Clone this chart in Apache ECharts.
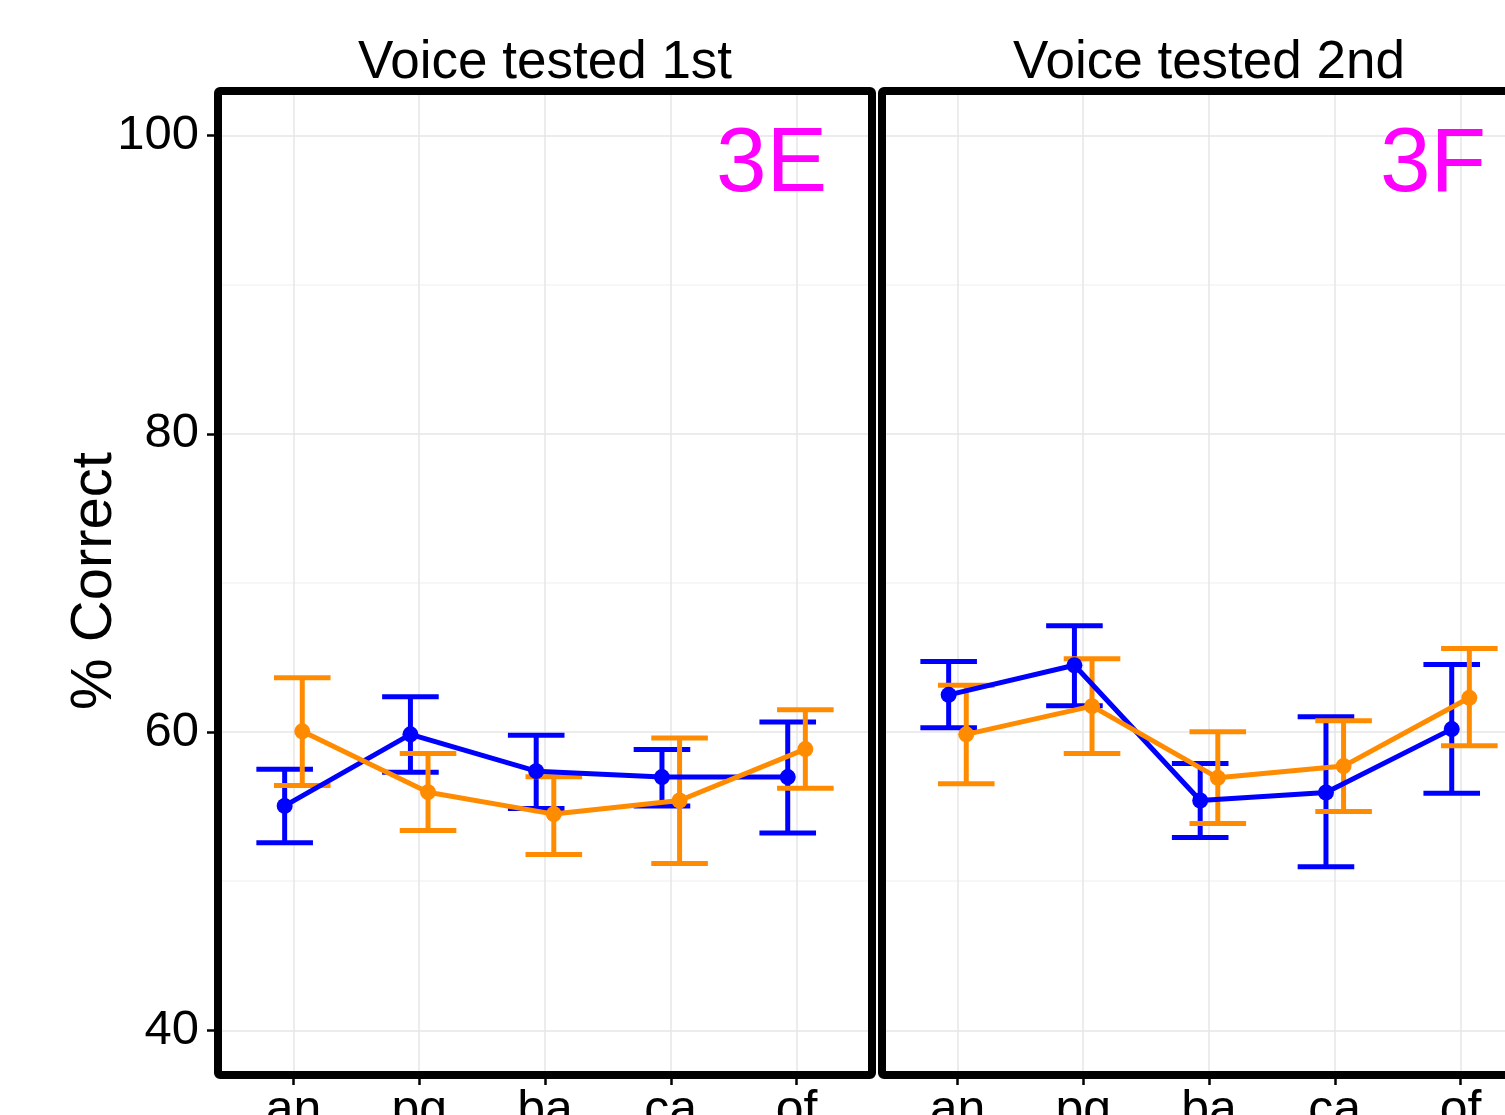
<!DOCTYPE html>
<html>
<head>
<meta charset="utf-8">
<script src="https://cdn.jsdelivr.net/npm/echarts@6/dist/echarts.min.js"></script>
<style>
html,body{margin:0;padding:0;background:#fff;}
#chart{width:1505px;height:1115px;}
</style>
</head>
<body>
<div id="chart"></div>
<script>
// ---- data ----
const categories = ['an', 'pg', 'ba', 'ca', 'of'];
const panelTitles = ['Voice tested 1st', 'Voice tested 2nd'];
const panelTags = ['3E', '3F'];
const yTicks = [40, 60, 80, 100];
const yGridValues = [40, 50, 60, 70, 80, 90, 100];

// Panel 1: Voice tested 1st
const blue1Mean = [55.05, 59.85, 57.38, 56.98, 56.98];
const blue1Lo   = [52.57, 57.30, 54.88, 55.05, 53.24];
const blue1Hi   = [57.50, 62.37, 59.78, 58.84, 60.67];
const orange1Mean = [60.05, 55.97, 54.50, 55.41, 58.86];
const orange1Lo   = [56.42, 53.40, 51.79, 51.19, 56.24];
const orange1Hi   = [63.65, 58.57, 57.00, 59.60, 61.50];

// Panel 2: Voice tested 2nd
const blue2Mean = [62.50, 64.48, 55.41, 55.95, 60.20];
const blue2Lo   = [60.29, 61.77, 52.93, 50.96, 55.89];
const blue2Hi   = [64.74, 67.13, 57.90, 61.03, 64.54];
const orange2Mean = [59.85, 61.74, 56.93, 57.72, 62.30];
const orange2Lo   = [56.53, 58.57, 53.87, 54.68, 59.08];
const orange2Hi   = [63.15, 64.92, 60.02, 60.76, 65.60];

// ---- styling / layout ----
const BLUE = '#0000FF', ORANGE = '#FF8C00';
const FONT = '"Liberation Sans", Arial, Helvetica, sans-serif';
const DODGE = 0.07, CAP = 0.225;
const PANELS = [{left: 218, width: 654}, {left: 882, width: 654}];
const TOP = 91, HEIGHT = 984;
const LW = 5;

const catPos = categories.map((c, i) => i + 1);

function pts(mean, off) { return mean.map((v, i) => [catPos[i] + off, v]); }
function bars(lo, hi, off) { return lo.map((v, i) => [catPos[i] + off, v, hi[i]]); }

function errSeries(lo, hi, off, color, xi, yi) {
  return {
    type: 'custom', xAxisIndex: xi, yAxisIndex: yi, silent: true,
    data: bars(lo, hi, off),
    renderItem: function (params, api) {
      const x = api.value(0), l = api.value(1), h = api.value(2);
      const pLo = api.coord([x, l]), pHi = api.coord([x, h]);
      const capL = api.coord([x - CAP, l])[0], capR = api.coord([x + CAP, l])[0];
      const st = {stroke: color, lineWidth: LW, fill: null};
      return {type: 'group', children: [
        {type: 'line', shape: {x1: pLo[0], y1: pLo[1], x2: pHi[0], y2: pHi[1]}, style: st},
        {type: 'line', shape: {x1: capL, y1: pLo[1], x2: capR, y2: pLo[1]}, style: st},
        {type: 'line', shape: {x1: capL, y1: pHi[1], x2: capR, y2: pHi[1]}, style: st}
      ]};
    }
  };
}
function lineSeries(mean, off, color, xi, yi) {
  return {type: 'line', xAxisIndex: xi, yAxisIndex: yi, data: pts(mean, off),
    showSymbol: false, symbol: 'none', silent: true, animation: false,
    lineStyle: {color: color, width: LW}};
}
function dotSeries(mean, off, color, xi, yi) {
  return {type: 'scatter', xAxisIndex: xi, yAxisIndex: yi, data: pts(mean, off),
    symbol: 'circle', symbolSize: 16, silent: true, itemStyle: {color: color, opacity: 1}};
}

function xAxisFor(gi) {
  return {
    type: 'value', gridIndex: gi, min: 0.4, max: 5.6,
    axisLine: {show: false},
    axisTick: {show: true, customValues: catPos, length: 10, lineStyle: {color: '#000', width: 2.5}},
    axisLabel: {show: true, customValues: catPos, margin: 11, fontSize: 50, color: '#000', fontFamily: FONT,
      formatter: v => categories[Math.round(v) - 1] || ''},
    splitLine: {show: true, lineStyle: {color: '#e6e6e6', width: 1.5}}
  };
}
function yGridAxis(gi) {
  return {
    type: 'value', gridIndex: gi, min: 37, max: 103, position: 'left',
    axisLine: {show: false},
    axisTick: {show: false, customValues: yGridValues},
    axisLabel: {show: false},
    splitLine: {show: true, lineStyle: {color: ['#e6e6e6', '#f4f4f4'], width: 1.5}}
  };
}

const series = [
  errSeries(blue1Lo, blue1Hi, -DODGE, BLUE, 0, 0),
  errSeries(orange1Lo, orange1Hi, DODGE, ORANGE, 0, 0),
  errSeries(blue2Lo, blue2Hi, -DODGE, BLUE, 1, 2),
  errSeries(orange2Lo, orange2Hi, DODGE, ORANGE, 1, 2),
  lineSeries(blue1Mean, -DODGE, BLUE, 0, 0),
  lineSeries(orange1Mean, DODGE, ORANGE, 0, 0),
  lineSeries(blue2Mean, -DODGE, BLUE, 1, 2),
  lineSeries(orange2Mean, DODGE, ORANGE, 1, 2),
  dotSeries(blue1Mean, -DODGE, BLUE, 0, 0),
  dotSeries(orange1Mean, DODGE, ORANGE, 0, 0),
  dotSeries(blue2Mean, -DODGE, BLUE, 1, 2),
  dotSeries(orange2Mean, DODGE, ORANGE, 1, 2)
];

const graphics = [];
PANELS.forEach((p, i) => {
  graphics.push({type: 'rect', z: 100, silent: true,
    shape: {x: p.left, y: TOP, width: p.width, height: HEIGHT, r: 2},
    style: {fill: null, stroke: '#000', lineWidth: 8}});
  graphics.push({type: 'text', z: 100, silent: true, x: p.left + p.width / 2, y: 63,
    style: {text: panelTitles[i], font: '53px ' + FONT, fill: '#000', align: 'center', verticalAlign: 'middle'}});
  graphics.push({type: 'text', z: 100, silent: true, x: p.left + 498, y: 166,
    style: {text: panelTags[i], font: '91px ' + FONT, fill: '#FF00FF', align: 'left', verticalAlign: 'middle'}});
});
graphics.push({type: 'text', z: 100, silent: true, x: 95, y: 581, rotation: Math.PI / 2,
  style: {text: '% Correct', font: '58px ' + FONT, fill: '#000', align: 'center', verticalAlign: 'middle'}});

const option = {
  animation: false,
  backgroundColor: '#fff',
  textStyle: {fontFamily: FONT},
  grid: PANELS.map(p => ({left: p.left, top: TOP, width: p.width, height: HEIGHT, show: false,
    containLabel: false, outerBoundsMode: 'none'})),
  xAxis: [xAxisFor(0), xAxisFor(1)],
  yAxis: [
    yGridAxis(0),
    {
      type: 'value', gridIndex: 0, min: 37, max: 103, position: 'left', offset: 0,
      axisLine: {show: false},
      axisTick: {show: true, customValues: yTicks, length: 11, lineStyle: {color: '#000', width: 2.5}},
      axisLabel: {show: true, customValues: yTicks, margin: 19, fontSize: 49, color: '#000', fontFamily: FONT},
      splitLine: {show: false}
    },
    yGridAxis(1)
  ],
  series: series,
  graphic: graphics
};

const chart = echarts.init(document.getElementById('chart'), null, {renderer: 'canvas'});
chart.setOption(option);
</script>
</body>
</html>
